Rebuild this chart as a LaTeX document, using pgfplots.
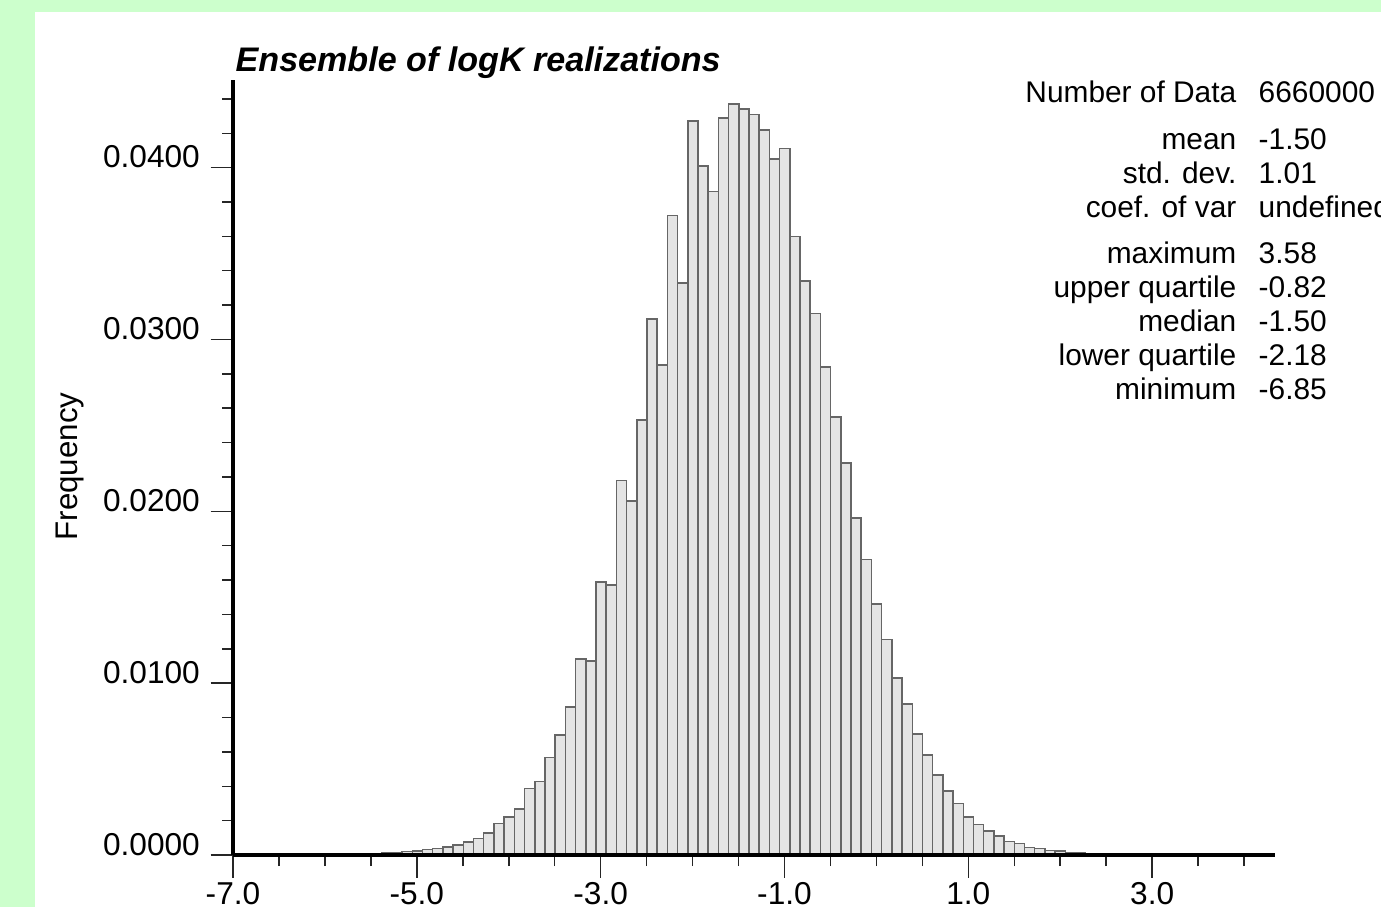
\documentclass[border=0pt]{standalone}
\usepackage{pgfplots}
\pgfplotsset{compat=1.18}
\usepackage{fontspec}
\setmainfont{Liberation Sans}
\definecolor{bggreen}{HTML}{CCFFCC}
\definecolor{barfill}{HTML}{E4E4E4}
\definecolor{baredge}{HTML}{666666}
\pgfplotstableread{
x h
-6.825 0.00001
-6.714 0.00001
-6.603 0.00001
-6.492 0.00002
-6.381 0.00002
-6.270 0.00002
-6.159 0.00003
-6.048 0.00003
-5.937 0.00004
-5.826 0.00005
-5.715 0.00006
-5.604 0.00008
-5.493 0.00010
-5.382 0.00012
-5.271 0.00015
-5.160 0.00019
-5.049 0.00023
-4.938 0.00031
-4.827 0.00039
-4.716 0.00048
-4.605 0.00058
-4.494 0.00077
-4.383 0.00097
-4.272 0.00129
-4.161 0.00184
-4.050 0.00221
-3.939 0.00267
-3.828 0.00387
-3.717 0.00428
-3.606 0.00567
-3.495 0.00699
-3.384 0.00861
-3.273 0.0114
-3.162 0.0113
-3.051 0.0159
-2.940 0.0157
-2.829 0.0218
-2.718 0.0206
-2.607 0.0253
-2.496 0.0312
-2.385 0.0285
-2.274 0.0372
-2.163 0.0333
-2.052 0.0427
-1.941 0.0401
-1.830 0.0386
-1.719 0.0429
-1.608 0.0437
-1.497 0.0434
-1.386 0.0431
-1.275 0.0422
-1.164 0.0405
-1.053 0.0411
-0.942 0.0360
-0.831 0.0334
-0.720 0.0315
-0.609 0.0284
-0.498 0.0255
-0.387 0.0228
-0.276 0.0196
-0.165 0.0172
-0.054 0.0146
0.057 0.01254
0.168 0.0103
0.279 0.00879
0.390 0.00703
0.501 0.00583
0.612 0.00465
0.723 0.00372
0.834 0.00300
0.945 0.00221
1.056 0.00178
1.167 0.00139
1.278 0.00110
1.389 0.00080
1.500 0.00066
1.611 0.00045
1.722 0.00037
1.833 0.00027
1.944 0.00023
2.055 0.00015
2.166 0.00011
2.277 0.00008
2.388 0.00006
2.499 0.00004
2.610 0.00003
2.721 0.00002
2.832 0.00002
2.943 0.00001
3.054 0.00001
3.165 0.00001
3.276 0.00001
3.387 0.00001
3.498 0.00001
3.609 0.00001
}\histdata
\begin{document}
\begin{tikzpicture}
\path[use as bounding box, clip] (0mm,0mm) rectangle (138.1mm,90.7mm);
\fill[bggreen] (0mm,0mm) rectangle (138.1mm,90.7mm);
\fill[white] (3.5mm,0mm) rectangle (138.1mm,89.5mm);
\begin{axis}[
  at={(23.3mm,5.2mm)}, anchor=south west,
  scale only axis, width=104.2mm, height=77.5mm,
  xmin=-7, xmax=4.337, ymin=0, ymax=0.0451,
  axis x line*=bottom, axis y line*=left,
  x axis line style={-, line width=0.35mm, black},
  y axis line style={-, line width=0.45mm, black},
  axis on top,
  tick align=outside,
  major tick length=2.25mm, minor tick length=1.1mm,
  xtick={-7,-5,-3,-1,1,3},
  xticklabels={-7.0,-5.0,-3.0,-1.0,1.0,3.0},
  minor xtick={-6.5,-6,-5.5,-4.5,-4,-3.5,-2.5,-2,-1.5,-0.5,0,0.5,1.5,2,2.5,3.5,4},
  ytick={0,0.01,0.02,0.03,0.04},
  yticklabels={0.0000,0.0100,0.0200,0.0300,0.0400},
  minor ytick={0.002,0.004,0.006,0.008,0.012,0.014,0.016,0.018,0.022,0.024,0.026,0.028,0.032,0.034,0.036,0.038,0.042,0.044},
  tick style={black!85, line width=0.15mm},
  yticklabel style={anchor=base east, inner sep=0pt, font=\fontsize{9}{10}\selectfont, xshift=-1.0mm},
  xticklabel style={anchor=base, inner sep=0pt, font=\fontsize{9}{10}\selectfont, yshift=-2.7mm},
  scaled y ticks=false,
  clip=false,
]
\addplot[ybar interval, fill=barfill, draw=baredge, line width=0.15mm] table[x=x, y=h] {\histdata};
\end{axis}
\node[anchor=base west, inner sep=0pt, font=\fontsize{9.7}{11}\selectfont\bfseries\itshape] at (23.5mm,83.5mm) {Ensemble of logK realizations};
\node[anchor=base, inner sep=0pt, rotate=90, font=\fontsize{8.9}{10}\selectfont] at (7.7mm,44.05mm) {Frequency};
\begin{scope}[every node/.style={inner sep=0pt, font=\fontsize{8.5}{10}\selectfont}]
\node[anchor=base east] at (123.7mm,80.45mm) {Number of Data};
\node[anchor=base west] at (125.8mm,80.45mm) {6660000};
\node[anchor=base east] at (123.7mm,75.75mm) {mean};
\node[anchor=base west] at (125.8mm,75.75mm) {-1.50};
\node[anchor=base east] at (123.7mm,72.35mm) {std. dev.};
\node[anchor=base west] at (125.8mm,72.35mm) {1.01};
\node[anchor=base east] at (123.7mm,68.95mm) {coef. of var};
\node[anchor=base west] at (125.8mm,68.95mm) {undefined};
\node[anchor=base east] at (123.7mm,64.35mm) {maximum};
\node[anchor=base west] at (125.8mm,64.35mm) {3.58};
\node[anchor=base east] at (123.7mm,60.95mm) {upper quartile};
\node[anchor=base west] at (125.8mm,60.95mm) {-0.82};
\node[anchor=base east] at (123.7mm,57.55mm) {median};
\node[anchor=base west] at (125.8mm,57.55mm) {-1.50};
\node[anchor=base east] at (123.7mm,54.15mm) {lower quartile};
\node[anchor=base west] at (125.8mm,54.15mm) {-2.18};
\node[anchor=base east] at (123.7mm,50.75mm) {minimum};
\node[anchor=base west] at (125.8mm,50.75mm) {-6.85};
\end{scope}
\end{tikzpicture}
\end{document}
